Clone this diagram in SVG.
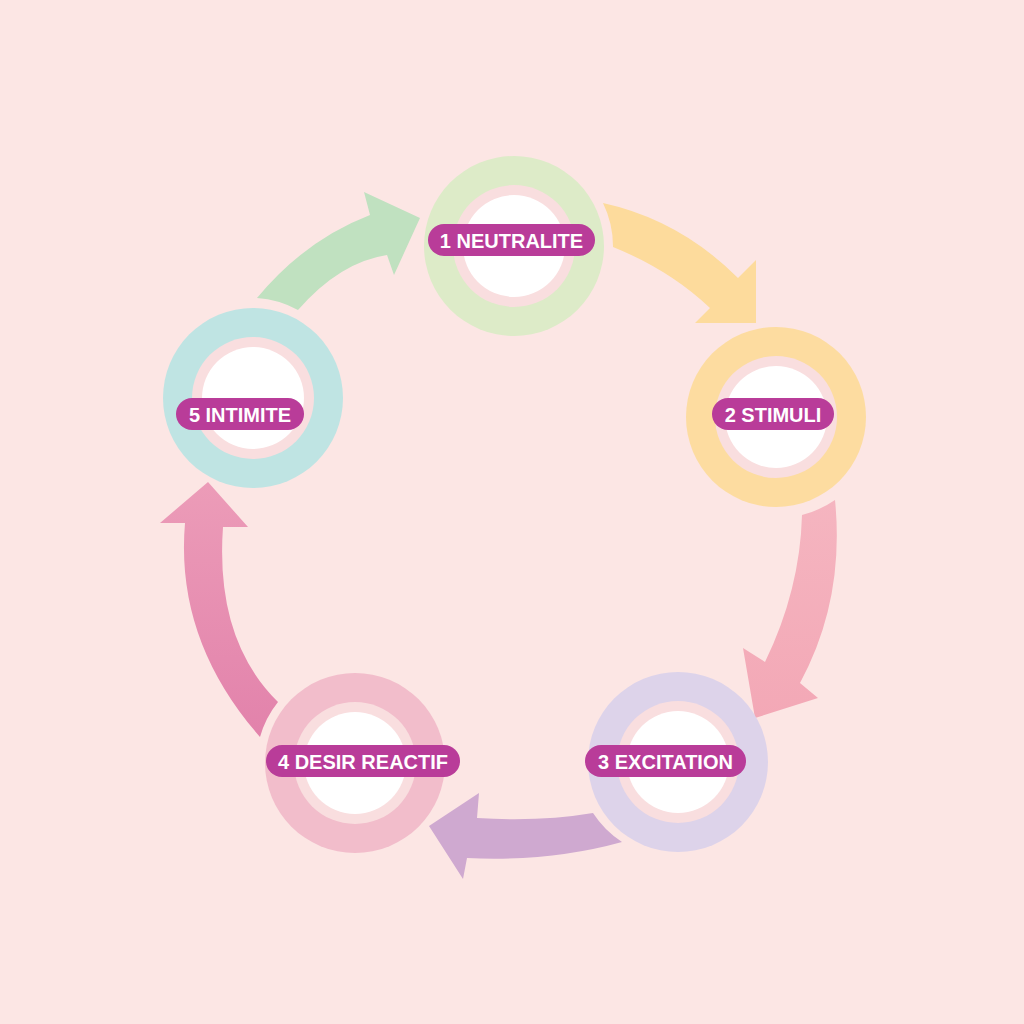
<svg xmlns="http://www.w3.org/2000/svg" width="1024" height="1024" viewBox="0 0 1024 1024">
<defs>
<style>
.inner{fill:#F9DEDF}
.core{fill:#FFFFFF}
.pill{fill:#B93C99}
.lbl{font-family:"Liberation Sans",Arial,sans-serif;font-weight:bold;font-size:20px;fill:#FFFFFF;text-anchor:middle;dominant-baseline:central}
</style>
<linearGradient id="gE" x1="0" y1="1" x2="0" y2="0"><stop offset="0" stop-color="#E282AB"/><stop offset="1" stop-color="#EC9CB8"/></linearGradient>
<linearGradient id="gC" x1="0" y1="0" x2="0" y2="1"><stop offset="0" stop-color="#F5B5C0"/><stop offset="1" stop-color="#F3A8B6"/></linearGradient>
</defs>
<rect width="1024" height="1024" fill="#FCE6E4"/>
<g id="connectors">
<path id="arrow-5-1" fill="#C0E1C0" d="M257,298 Q305,240 370,215 L364,192 L420,218 L394,275 L387,255 Q340,262 298,310 A99 99 0 0 0 257,298 Z"/>
<path id="arrow-1-2" fill="#FDDB9C" d="M603,203 Q680,220 738,278 L756,260 L756,323 L695,323 L710,308 Q670,270 613,247 A99 99 0 0 0 603,203 Z"/>
<path id="arrow-2-3" fill="url(#gC)" d="M835,500 Q845,600 800,683 L818,698 L755,718 L743,648 L765,662 Q800,590 802,515 A101 101 0 0 0 835,500 Z"/>
<path id="arrow-3-4" fill="#CFA9D0" d="M593,813 Q540,822 477,818 L479,793 L429,826 L463,879 L467,858 Q550,862 622,842 A99 99 0 0 1 593,813 Z"/>
<path id="arrow-4-5" fill="url(#gE)" d="M278,702 Q215,640 223,527 L248,527 L208,482 L160,523 L185,523 Q175,640 260,737 A99 99 0 0 1 278,702 Z"/>
</g>
<g id="node1">
<circle cx="514" cy="246" r="90" fill="#DDEBC8"/>
<circle class="inner" cx="514" cy="246" r="61"/>
<circle class="core" cx="514" cy="246" r="51"/>
<rect class="pill" x="428" y="224" width="167" height="32" rx="16"/>
<text class="lbl" x="511.5" y="241">1 NEUTRALITE</text>
</g>
<g id="node2">
<circle cx="776" cy="417" r="90" fill="#FDDCA0"/>
<circle class="inner" cx="776" cy="417" r="61"/>
<circle class="core" cx="776" cy="417" r="51"/>
<rect class="pill" x="712" y="398" width="122" height="32" rx="16"/>
<text class="lbl" x="773" y="415">2 STIMULI</text>
</g>
<g id="node3">
<circle cx="678" cy="762" r="90" fill="#DDD3EA"/>
<circle class="inner" cx="678" cy="762" r="61"/>
<circle class="core" cx="678" cy="762" r="51"/>
<rect class="pill" x="585" y="745" width="161" height="32" rx="16"/>
<text class="lbl" x="665.5" y="762">3 EXCITATION</text>
</g>
<g id="node4">
<circle cx="355" cy="763" r="90" fill="#F2BDCB"/>
<circle class="inner" cx="355" cy="763" r="61"/>
<circle class="core" cx="355" cy="763" r="51"/>
<rect class="pill" x="266" y="745" width="194" height="32" rx="16"/>
<text class="lbl" x="363" y="762">4 DESIR REACTIF</text>
</g>
<g id="node5">
<circle cx="253" cy="398" r="90" fill="#BFE4E3"/>
<circle class="inner" cx="253" cy="398" r="61"/>
<circle class="core" cx="253" cy="398" r="51"/>
<rect class="pill" x="176" y="398" width="128" height="32" rx="16"/>
<text class="lbl" x="240" y="415">5 INTIMITE</text>
</g>
</svg>
